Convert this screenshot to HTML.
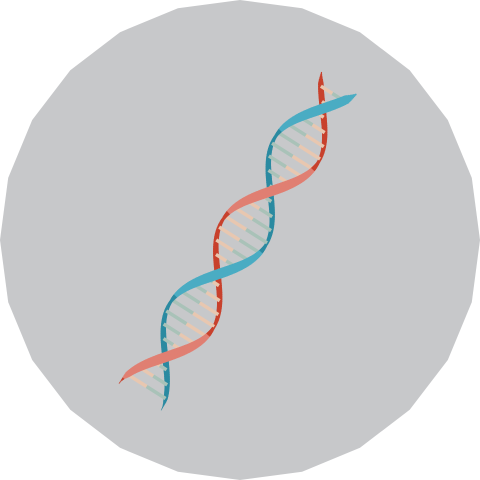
<!DOCTYPE html>
<html><head><meta charset="utf-8"><style>html,body{margin:0;padding:0;background:#fff}svg{display:block}</style></head>
<body>
<svg id="s" width="480" height="480" viewBox="0 0 480 480">
<polygon id="bg" fill="#c7c8ca"/>
<g id="back"></g>
<g id="rungs"></g>
<g id="front"></g>
</svg>
<script>
var ns="http://www.w3.org/2000/svg";
var pts=[];for(var i=0;i<24;i++){var a=i/24*2*Math.PI;pts.push((240+240*Math.sin(a)).toFixed(1)+","+(240-240*Math.cos(a)).toFixed(1));}
document.getElementById('bg').setAttribute('points',pts.join(' '));
var x0=140,y0=397,x1=339,y1=83;
var dx=x1-x0,dy=y1-y0,L=Math.hypot(dx,dy),ux=dx/L,uy=dy/L,px=-uy,py=ux;
var turns=1.895,amp=25,phR=-1.51;
function ph(t,p){return t*turns*2*Math.PI+p;}
function P(t,p){var s=Math.sin(ph(t,p))*amp;return [x0+dx*t+px*s,y0+dy*t+py*s];}
var rg=document.getElementById('rungs');
for(var k=1;k<30;k++){var t=k/30;var a=P(t,phR),b=P(t,phR+Math.PI);
var mx=(a[0]+b[0])/2,my=(a[1]+b[1])/2;
[[a,'#e8c7b0'],[b,'#a9c2b8']].forEach(function(q){
var l=document.createElementNS(ns,'line');
l.setAttribute('x1',q[0][0]);l.setAttribute('y1',q[0][1]);l.setAttribute('x2',mx);l.setAttribute('y2',my);
l.setAttribute('stroke',q[1]);l.setAttribute('stroke-width','3.5');


rg.appendChild(l);});}
var bk=document.getElementById('back'),fr=document.getElementById('front');
function strand(p,front,edge,name){var N=260;
for(var j=0;j<N;j++){var t=j/N,t2=Math.min((j+1.6)/N,1);var a=P(t,p),b=P(t2,p);
var c=Math.cos(ph(t,p));
var taper=Math.min(1,t/0.03,(1-t)/0.03);
var w=c>0?(3+7*c):(3+3*Math.abs(c));
var ln=document.createElementNS(ns,'line');
ln.setAttribute('x1',a[0]);ln.setAttribute('y1',a[1]);ln.setAttribute('x2',b[0]);ln.setAttribute('y2',b[1]);
ln.setAttribute('stroke',c>0.25?front:edge);ln.setAttribute('stroke-width',(w*Math.max(taper,0.2)).toFixed(1));ln.setAttribute('stroke-linecap','butt');


(c>0?fr:bk).appendChild(ln);}}
strand(phR,'#e07f72','#c8412c','red-strand');
strand(phR+Math.PI,'#4aacc3','#2a8aa1','blue-strand');
</script>
</body></html>
